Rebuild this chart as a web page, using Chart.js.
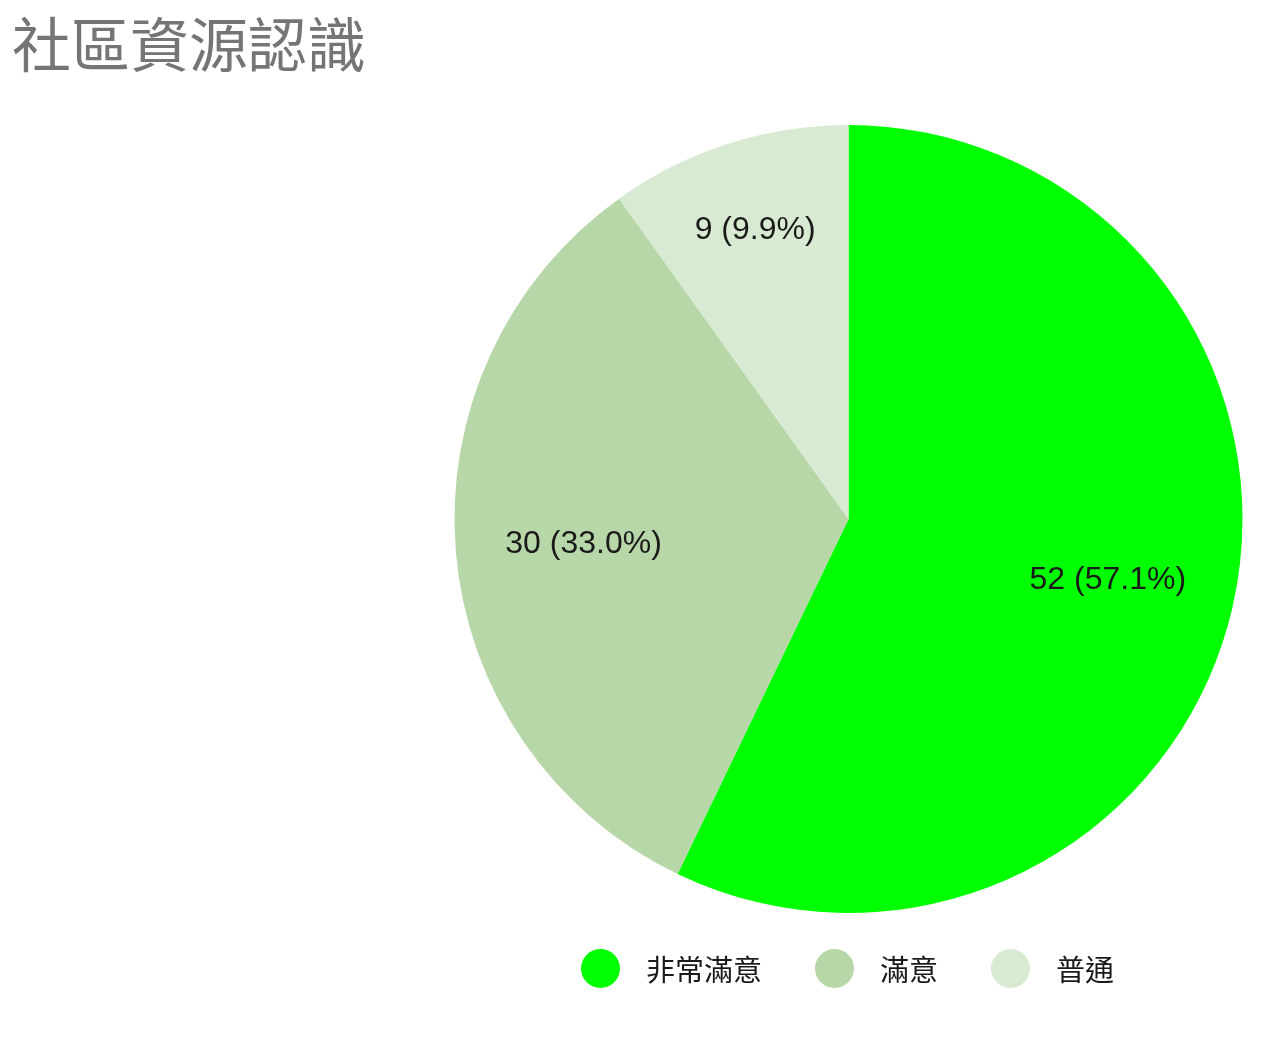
<!DOCTYPE html>
<html lang="zh-Hant">
<head>
<meta charset="utf-8">
<title>社區資源認識</title>
<script src="https://cdn.jsdelivr.net/npm/chart.js@4.4.1/dist/chart.umd.min.js"></script>
<style>
    body { margin: 0; background: #fff; }
    .wrap { position: relative; width: 1284px; height: 1039px; }
    .title {
        position: absolute; left: 12px; top: 12px; margin: 0;
        font: 400 59px/1 "Noto Sans CJK TC", "Noto Sans", sans-serif;
        color: #757575; letter-spacing: 0;
    }
    .legend {
        position: absolute; left: 581px; top: 948px; height: 40px;
        display: flex; align-items: center; gap: 53px;
        font: 400 29px/1 "Noto Sans CJK TC", sans-serif; color: #1a1a1a;
    }
    .legend .item { display: flex; align-items: center; gap: 26px; }
    .legend .dot { width: 39px; height: 39px; border-radius: 50%; }
</style>
</head>
<body>
<div class="wrap">
    <canvas id="pieChart"></canvas>
    <h1 class="title">社區資源認識</h1>
    <div class="legend" id="legend"></div>
</div>
<script>
// Datos del gráfico
const categories = ['非常滿意', '滿意', '普通'];
const values = [52, 30, 9];
const sliceColors = ['#00ff00', '#b7d7a8', '#d9ead3'];

// Etiquetas dentro de cada porción: "valor (porcentaje)"
const sliceLabels = {
    id: 'sliceLabels',
    afterDatasetsDraw(chart) {
        const { ctx } = chart;
        const meta = chart.getDatasetMeta(0);
        const total = values.reduce((a, b) => a + b, 0);
        ctx.save();
        ctx.font = '32px "Liberation Sans", Arial, sans-serif';
        ctx.fillStyle = '#1a1a1a';
        ctx.textAlign = 'center';
        ctx.textBaseline = 'middle';
        meta.data.forEach((arc, i) => {
            const { x, y, startAngle, endAngle, outerRadius } =
                arc.getProps(['x', 'y', 'startAngle', 'endAngle', 'outerRadius'], true);
            const mid = (startAngle + endAngle) / 2;
            const share = values[i] / total;
            const k = share < 0.15 ? 0.775 : 0.675; // porciones pequeñas, más afuera
            const text = values[i] + ' (' + (share * 100).toFixed(1) + '%)';
            ctx.fillText(text, x + Math.cos(mid) * outerRadius * k, y + Math.sin(mid) * outerRadius * k + 2);
        });
        ctx.restore();
    }
};

const ctx = document.getElementById('pieChart').getContext('2d');
new Chart(ctx, {
    type: 'pie',
    data: {
        labels: categories,
        datasets: [{
            data: values,
            backgroundColor: sliceColors,
            borderWidth: 0
        }]
    },
    options: {
        responsive: true,
        maintainAspectRatio: false,
        animation: false,
        layout: {
            padding: { left: 454, right: 41, top: 125, bottom: 126 }
        },
        plugins: {
            legend: { display: false },
            title: { display: false },
            tooltip: { enabled: false }
        }
    },
    plugins: [sliceLabels]
});

// Leyenda en HTML
const legendEl = document.getElementById('legend');
categories.forEach((name, i) => {
    const item = document.createElement('div');
    item.className = 'item';
    const dot = document.createElement('span');
    dot.className = 'dot';
    dot.style.background = sliceColors[i];
    const label = document.createElement('span');
    label.textContent = name;
    item.append(dot, label);
    legendEl.appendChild(item);
});
</script>
</body>
</html>
